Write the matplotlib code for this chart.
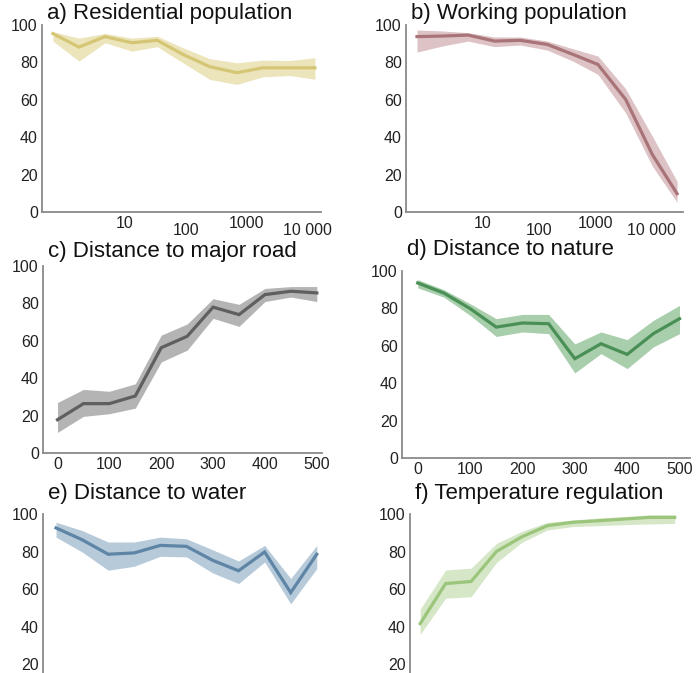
import matplotlib.pyplot as plt

plt.rcParams['font.family'] = ['Liberation Sans', 'DejaVu Sans']

# a) Residential population (log x)
res_x = [0.65, 1.75, 4.7, 13, 34, 90, 250, 700, 1860, 5250, 13500]
res_mid = [95.4, 88.2, 93.8, 90.5, 91.8, 84.3, 77.7, 74.5, 77.1, 77.1, 77.1]
res_lo = [91.4, 80.7, 90.5, 86.0, 88.4, 79.8, 70.9, 68.2, 72.3, 73.0, 71.0]
res_hi = [96.4, 93.0, 95.5, 93.0, 94.0, 87.9, 82.0, 79.8, 81.2, 81.0, 82.5]

# b) Working population (log x)
work_x = [0.66, 1.9, 5.4, 16, 46, 140, 400, 1120, 3500, 10500, 29000]
work_mid = [93.8, 94.1, 94.6, 91.4, 91.8, 89.6, 84.3, 78.9, 60.2, 30.7, 9.8]
work_lo = [85.5, 88.8, 91.4, 88.4, 89.3, 86.6, 80.7, 73.6, 53.0, 24.5, 5.2]
work_hi = [97.3, 96.8, 95.9, 93.6, 93.6, 91.4, 87.3, 83.4, 65.9, 40.5, 16.4]

# c) - f) distance / temperature (linear x)
dist_x = [0, 50, 100, 150, 200, 250, 300, 350, 400, 450, 500]

road_mid = [17.8, 26.4, 26.4, 30.5, 56.3, 62.4, 78.0, 74.0, 84.7, 86.5, 85.6]
road_lo = [11.0, 19.6, 21.0, 24.0, 48.7, 55.0, 72.0, 67.7, 81.0, 83.4, 81.0]
road_hi = [27.0, 34.0, 33.0, 37.0, 63.0, 69.0, 82.5, 79.5, 88.0, 89.0, 89.0]

nature_mid = [93.6, 88.2, 79.9, 70.0, 72.2, 71.8, 53.1, 61.1, 55.4, 66.5, 74.5]
nature_lo = [91.0, 86.0, 76.3, 65.0, 67.4, 66.5, 45.5, 55.8, 47.8, 59.4, 66.5]
nature_hi = [95.4, 90.0, 82.5, 74.5, 76.8, 76.8, 61.0, 67.4, 63.3, 73.6, 81.6]

water_mid = [92.6, 86.3, 78.6, 79.3, 83.3, 82.8, 75.4, 69.8, 79.8, 58.2, 78.6]
water_lo = [87.7, 79.8, 70.1, 72.2, 77.5, 77.2, 68.7, 63.0, 74.5, 52.2, 71.0]
water_hi = [95.6, 91.2, 85.1, 85.1, 87.7, 86.8, 81.0, 75.0, 83.3, 65.7, 83.3]

temp_mid = [41.7, 63.0, 64.1, 80.1, 87.9, 93.8, 95.6, 96.4, 97.3, 98.2, 98.2]
temp_lo = [36.0, 55.2, 56.0, 74.2, 85.0, 91.5, 93.3, 93.8, 94.3, 94.7, 95.0]
temp_hi = [49.4, 70.2, 71.2, 84.4, 90.8, 95.6, 96.8, 97.9, 98.6, 99.5, 99.5]

pop_ticks = [10, 100, 1000, 10000]
pop_labels = ['10', '100', '1000', '10 000']
dist_ticks = [0, 100, 200, 300, 400, 500]
y_ticks = [0, 20, 40, 60, 80, 100]

W, H = 696, 673
fig = plt.figure(figsize=(W / 100, H / 100), dpi=100)


def make_ax(l, r, top, bottom):
    # pixel box -> figure fraction
    return fig.add_axes([l / W, 1 - bottom / H, (r - l) / W, (bottom - top) / H])


panels = [
    # title, x, mid, lo, hi, line colour, band colour, box, xlim, log, title gap
    ('a) Residential population', res_x, res_mid, res_lo, res_hi,
     '#d5c675', '#ece4bb', (42, 321, 25, 212), (0.43, 17000), True, 1),
    ('b) Working population', work_x, work_mid, work_lo, work_hi,
     '#a97478', '#ddc3c5', (406, 683, 25, 212), (0.42, 37000), True, 1),
    ('c) Distance to major road', dist_x, road_mid, road_lo, road_hi,
     '#5f5f5f', '#b4b4b4', (43, 322, 266, 453), (-28, 510), False, 4),
    ('d) Distance to nature', dist_x, nature_mid, nature_lo, nature_hi,
     '#4a9056', '#a8ceac', (402, 690, 271, 458), (-30, 520), False, 11),
    ('e) Distance to water', dist_x, water_mid, water_lo, water_hi,
     '#5e84a6', '#b7cada', (43, 322, 514, 702), (-25, 510), False, 10),
    ('f) Temperature regulation', dist_x, temp_mid, temp_lo, temp_hi,
     '#9cc57c', '#d5e7c7', (410, 690, 514, 702), (-20, 530), False, 10),
]

for n, (title, x, mid, lo, hi, lc, bc, box, xlim, logx, gap) in enumerate(panels):
    ax = make_ax(*box)
    ax.fill_between(x, lo, hi, color=bc, linewidth=0)
    ax.plot(x, mid, color=lc, linewidth=2.3, solid_joinstyle='miter')
    if logx:
        ax.set_xscale('log')
        ax.set_xticks(pop_ticks, pop_labels)
        ax.minorticks_off()
    else:
        ax.set_xticks(dist_ticks)
    ax.set_xlim(*xlim)
    ax.set_ylim(0, 100)
    ax.set_yticks(y_ticks)
    for s in ['top', 'right']:
        ax.spines[s].set_visible(False)
    for s in ['left', 'bottom']:
        ax.spines[s].set_color('#8a8a8a')
        ax.spines[s].set_linewidth(1.3)
    ax.tick_params(length=0, labelsize=11.5, pad=3, colors='#222222')
    if n >= 4:
        # bottom row: the x axis lies below the picture edge
        ax.tick_params(axis='x', labelbottom=False)
        ax.set_yticks(y_ticks[1:])
    if logx:
        # staggered labels: 100 and 10 000 sit a bit lower
        for i, lbl in enumerate(ax.get_xticklabels()):
            if i % 2 == 1:
                lbl.set_y(-0.035)
    ax.annotate(title, xy=(0, 1), xycoords='axes fraction',
                xytext=(5, gap), textcoords='offset pixels',
                ha='left', va='bottom', fontsize=16, color='#111111')

fig.savefig('out.png', dpi=100)
